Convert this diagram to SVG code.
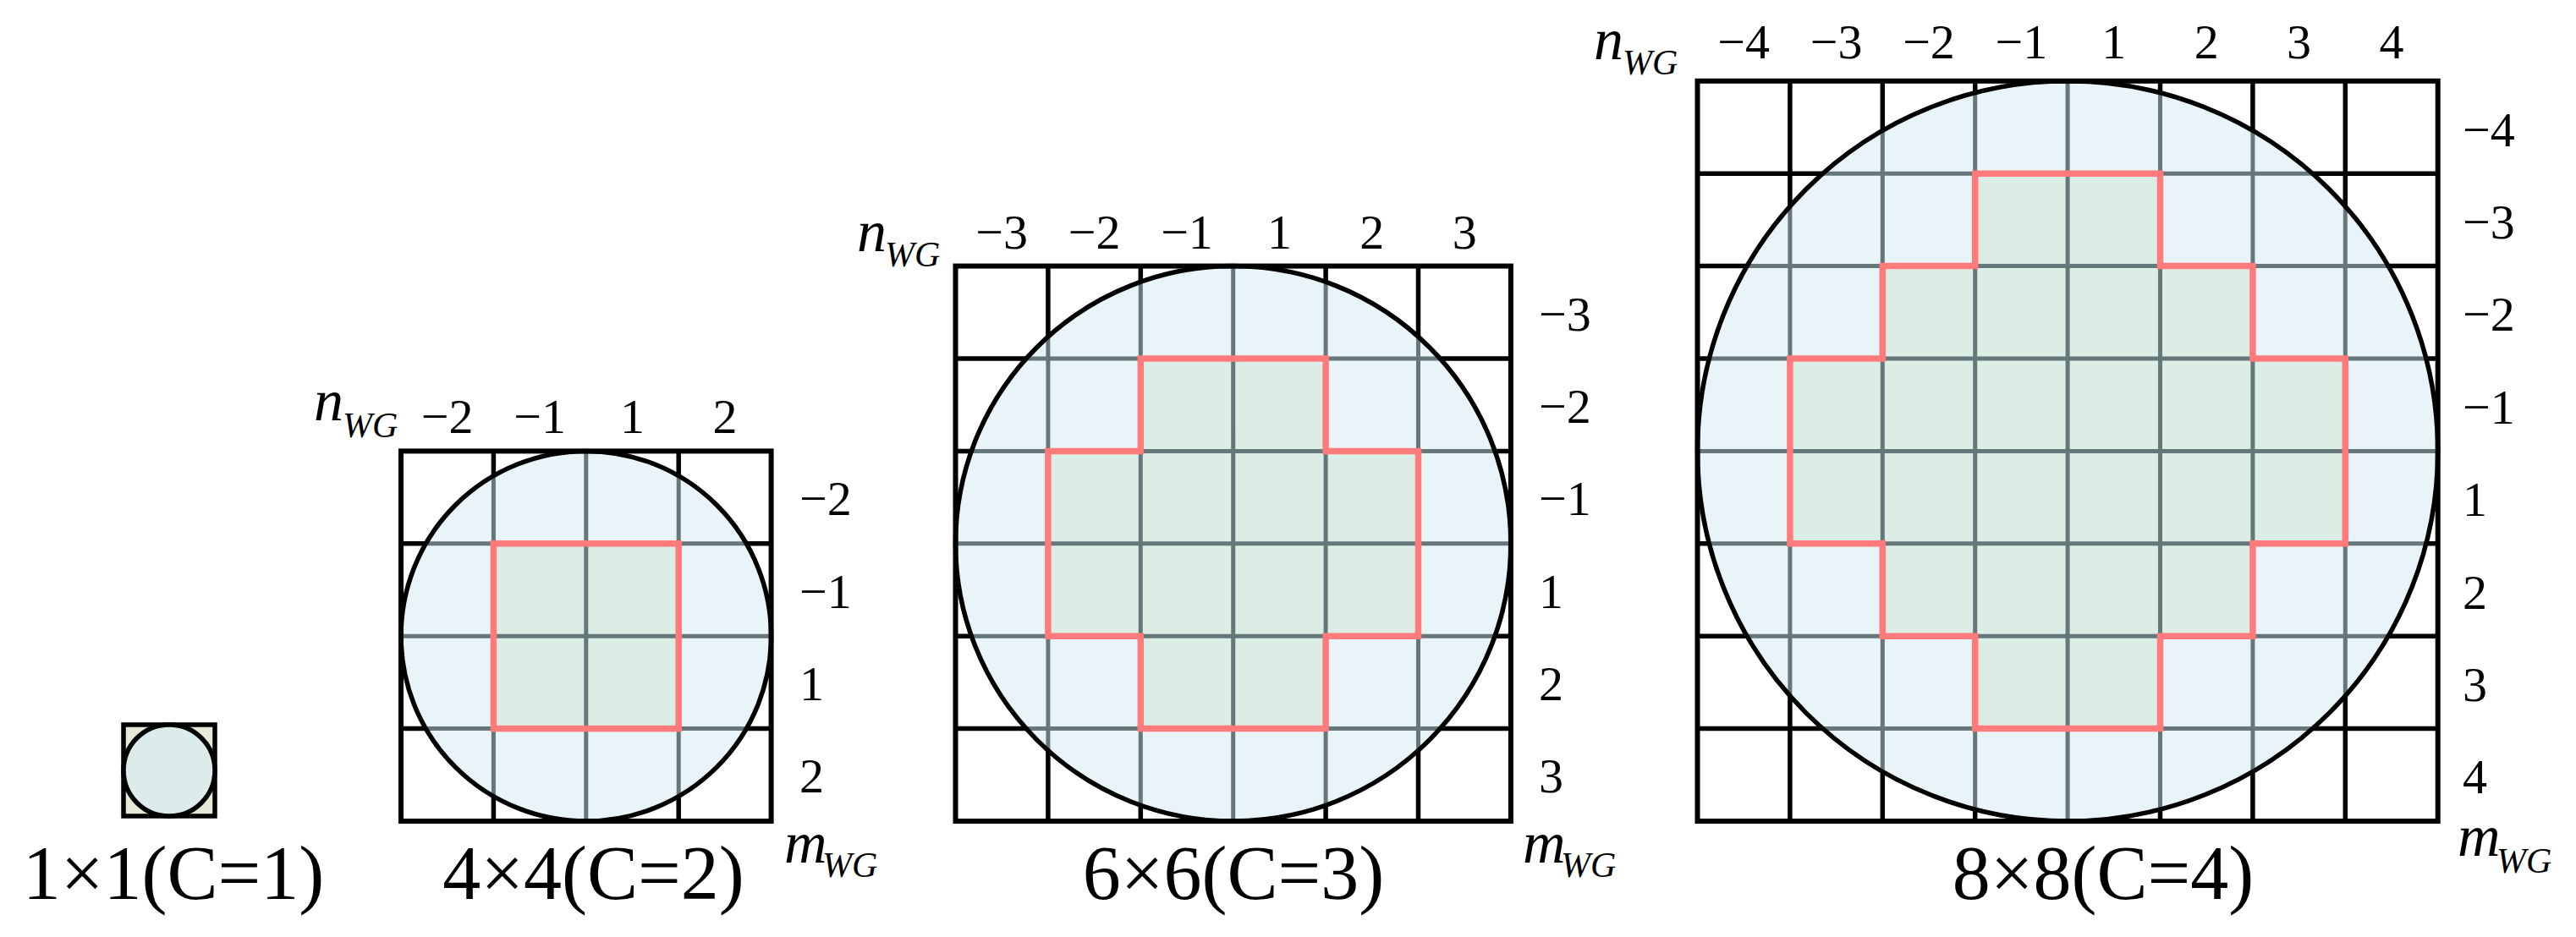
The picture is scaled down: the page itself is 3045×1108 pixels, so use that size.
<svg xmlns="http://www.w3.org/2000/svg" xmlns:xlink="http://www.w3.org/1999/xlink" width="3045" height="1108" viewBox="0 0 3045 1108" font-family="'Liberation Serif', 'DejaVu Serif', serif">
<style>
  text, tspan { font-family: "Liberation Serif", "DejaVu Serif", serif; fill: #000; }
  .num { font-size: 58px; }
  .mid { text-anchor: middle; }
  .cap { font-size: 90px; text-anchor: middle; }
  .var { font-style: italic; font-size: 70px; }
  .sub { font-style: italic; font-size: 42px; }
  .blk { fill: none; stroke: #000; stroke-width: 5.5; }
  .gry { fill: none; stroke: #66777a; stroke-width: 5; }
  .disk { fill: #e8f4f8; stroke: none; }
  .ring { fill: none; stroke: #000; stroke-width: 5.5; }
  .frame { fill: none; stroke: #000; stroke-width: 6; }
  .zone { fill: #dcede6; stroke: none; }
  .edge { fill: none; stroke: #ff7b7b; stroke-width: 7.5; stroke-linejoin: miter; }
</style>
<defs>
  <path id="L4" d="M583.4,533.4V971M692.8,533.4V971M802.2,533.4V971M474,642.8H911.6M474,752.2H911.6M474,861.6H911.6"/>
  <path id="L6" d="M1238.9,314.6V971M1348.3,314.6V971M1457.7,314.6V971M1567.1,314.6V971M1676.5,314.6V971M1129.5,424H1785.9M1129.5,533.4H1785.9M1129.5,642.8H1785.9M1129.5,752.2H1785.9M1129.5,861.6H1785.9"/>
  <path id="L8" d="M2115.9,95.8V971M2225.3,95.8V971M2334.7,95.8V971M2444.1,95.8V971M2553.5,95.8V971M2662.9,95.8V971M2772.3,95.8V971M2006.5,205.2H2881.7M2006.5,314.6H2881.7M2006.5,424H2881.7M2006.5,533.4H2881.7M2006.5,642.8H2881.7M2006.5,752.2H2881.7M2006.5,861.6H2881.7"/>
  <clipPath id="C4"><circle cx="692.8" cy="752.2" r="218.8"/></clipPath>
  <clipPath id="C6"><circle cx="1457.7" cy="642.8" r="328.2"/></clipPath>
  <clipPath id="C8"><circle cx="2444.1" cy="533.4" r="437.6"/></clipPath>
</defs>

<g id="connectors"/>

<g id="panel-1x1">
  <rect x="146" y="857" width="108" height="108" fill="#e4ead7" stroke="#000" stroke-width="5.5"/>
  <circle cx="200" cy="911" r="54" fill="#dcecea" stroke="#000" stroke-width="5.5"/>
  <text class="cap" x="205" y="1063">1×1(C=1)</text>
</g>

<g id="panel-4x4">
  <use xlink:href="#L4" class="blk"/>
  <circle class="disk" cx="692.8" cy="752.2" r="218.8"/>
  <rect class="zone" x="583.4" y="642.8" width="218.8" height="218.8"/>
  <use xlink:href="#L4" class="gry" clip-path="url(#C4)"/>
  <rect class="edge" x="583.4" y="642.8" width="218.8" height="218.8"/>
  <circle class="ring" cx="692.8" cy="752.2" r="218.8"/>
  <rect class="frame" x="474" y="533.4" width="437.6" height="437.6"/>
  <text><tspan class="var" x="371" y="497">n</tspan><tspan class="sub" x="405" y="517">WG</tspan></text>
  <text class="num mid" x="528.7" y="512">−2</text>
  <text class="num mid" x="638.1" y="512">−1</text>
  <text class="num mid" x="747.5" y="512">1</text>
  <text class="num mid" x="856.9" y="512">2</text>
  <text class="num" x="945" y="609">−2</text>
  <text class="num" x="945" y="718.5">−1</text>
  <text class="num" x="945" y="828">1</text>
  <text class="num" x="945" y="937">2</text>
  <text><tspan class="var" x="927" y="1020">m</tspan><tspan class="sub" x="972" y="1037">WG</tspan></text>
  <text class="cap" x="701.5" y="1063">4×4(C=2)</text>
</g>

<g id="panel-6x6">
  <use xlink:href="#L6" class="blk"/>
  <circle class="disk" cx="1457.7" cy="642.8" r="328.2"/>
  <path class="zone" d="M1348.3,424H1567.1V533.4H1676.5V752.2H1567.1V861.6H1348.3V752.2H1238.9V533.4H1348.3Z"/>
  <use xlink:href="#L6" class="gry" clip-path="url(#C6)"/>
  <path class="edge" d="M1348.3,424H1567.1V533.4H1676.5V752.2H1567.1V861.6H1348.3V752.2H1238.9V533.4H1348.3Z"/>
  <circle class="ring" cx="1457.7" cy="642.8" r="328.2"/>
  <rect class="frame" x="1129.5" y="314.6" width="656.4" height="656.4"/>
  <text><tspan class="var" x="1013" y="297">n</tspan><tspan class="sub" x="1046" y="315">WG</tspan></text>
  <text class="num mid" x="1184.2" y="294">−3</text>
  <text class="num mid" x="1293.6" y="294">−2</text>
  <text class="num mid" x="1403" y="294">−1</text>
  <text class="num mid" x="1512.4" y="294">1</text>
  <text class="num mid" x="1621.8" y="294">2</text>
  <text class="num mid" x="1731.2" y="294">3</text>
  <text class="num" x="1819" y="390.5">−3</text>
  <text class="num" x="1819" y="500">−2</text>
  <text class="num" x="1819" y="609">−1</text>
  <text class="num" x="1819" y="718.5">1</text>
  <text class="num" x="1819" y="828">2</text>
  <text class="num" x="1819" y="937">3</text>
  <text><tspan class="var" x="1800" y="1020">m</tspan><tspan class="sub" x="1845" y="1037">WG</tspan></text>
  <text class="cap" x="1458" y="1063">6×6(C=3)</text>
</g>

<g id="panel-8x8">
  <use xlink:href="#L8" class="blk"/>
  <circle class="disk" cx="2444.1" cy="533.4" r="437.6"/>
  <path class="zone" d="M2334.7,205.2H2553.5V314.6H2662.9V424H2772.3V642.8H2662.9V752.2H2553.5V861.6H2334.7V752.2H2225.3V642.8H2115.9V424H2225.3V314.6H2334.7Z"/>
  <use xlink:href="#L8" class="gry" clip-path="url(#C8)"/>
  <path class="edge" d="M2334.7,205.2H2553.5V314.6H2662.9V424H2772.3V642.8H2662.9V752.2H2553.5V861.6H2334.7V752.2H2225.3V642.8H2115.9V424H2225.3V314.6H2334.7Z"/>
  <circle class="ring" cx="2444.1" cy="533.4" r="437.6"/>
  <rect class="frame" x="2006.5" y="95.8" width="875.2" height="875.2"/>
  <text><tspan class="var" x="1884" y="70">n</tspan><tspan class="sub" x="1918" y="88">WG</tspan></text>
  <text class="num mid" x="2061.2" y="69">−4</text>
  <text class="num mid" x="2170.6" y="69">−3</text>
  <text class="num mid" x="2280" y="69">−2</text>
  <text class="num mid" x="2389.4" y="69">−1</text>
  <text class="num mid" x="2498.8" y="69">1</text>
  <text class="num mid" x="2608.2" y="69">2</text>
  <text class="num mid" x="2717.6" y="69">3</text>
  <text class="num mid" x="2827" y="69">4</text>
  <text class="num" x="2911" y="173">−4</text>
  <text class="num" x="2911" y="282">−3</text>
  <text class="num" x="2911" y="391">−2</text>
  <text class="num" x="2911" y="500.5">−1</text>
  <text class="num" x="2911" y="610">1</text>
  <text class="num" x="2911" y="719.5">2</text>
  <text class="num" x="2911" y="829">3</text>
  <text class="num" x="2911" y="938">4</text>
  <text><tspan class="var" x="2905" y="1012">m</tspan><tspan class="sub" x="2951" y="1032">WG</tspan></text>
  <text class="cap" x="2486" y="1063">8×8(C=4)</text>
</g>
</svg>
